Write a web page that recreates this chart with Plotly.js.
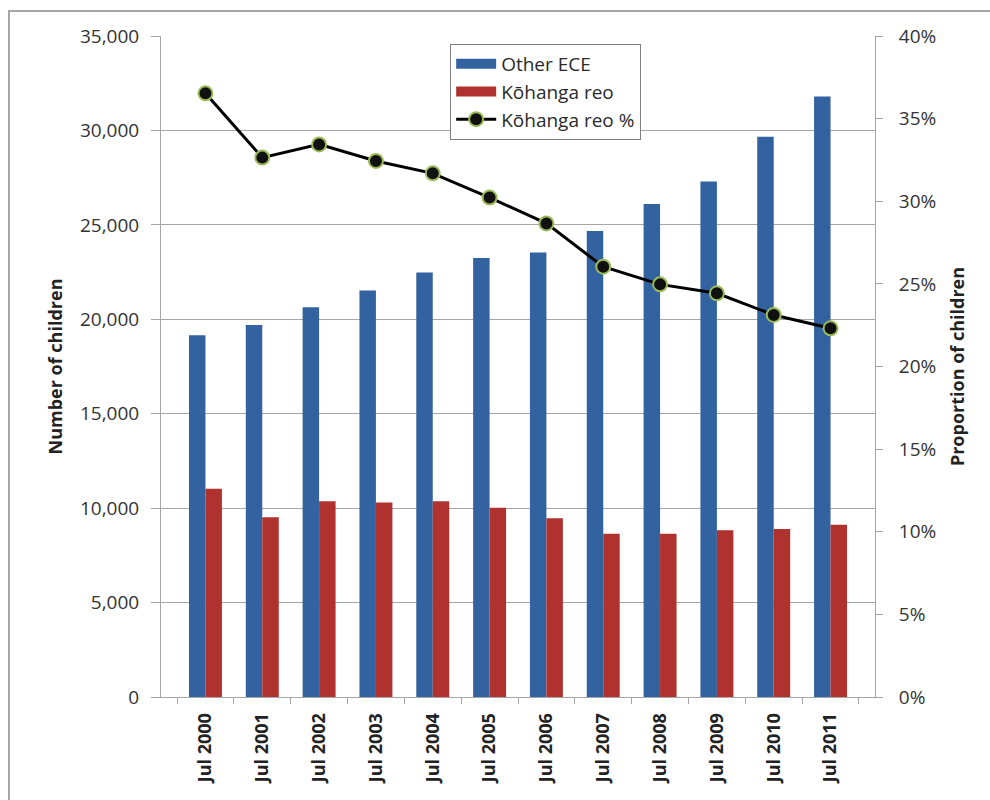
<!DOCTYPE html>
<html>
<head>
<meta charset="utf-8">
<script src="https://cdn.plot.ly/plotly-3.0.1.min.js"></script>
<style>
  html, body { margin: 0; padding: 0; background: #fff; }
  #chart { width: 990px; height: 800px; position: absolute; left: 0; top: 0; }
  #frame { position: absolute; left: 8px; top: 10px; width: 990px; height: 800px; border: 2px solid #a6a6a6; pointer-events: none; box-sizing: border-box; }
</style>
</head>
<body>
<div id="chart"></div>
<div id="frame"></div>
<script>
const categories = ["Jul 2000","Jul 2001","Jul 2002","Jul 2003","Jul 2004","Jul 2005","Jul 2006","Jul 2007","Jul 2008","Jul 2009","Jul 2010","Jul 2011"];
const otherECE = [19150, 19700, 20640, 21530, 22480, 23240, 23540, 24670, 26100, 27290, 29660, 31800];
const kohangaReo = [11030, 9520, 10370, 10300, 10370, 10020, 9470, 8640, 8640, 8830, 8890, 9120];
const kohangaPct = [0.3653, 0.3264, 0.3344, 0.3244, 0.3169, 0.3022, 0.2866, 0.2604, 0.2497, 0.2443, 0.2312, 0.2231];
const leftTicks = [0, 5000, 10000, 15000, 20000, 25000, 30000, 35000];
const rightTicks = [0, 0.05, 0.10, 0.15, 0.20, 0.25, 0.30, 0.35, 0.40];
const seriesNames = ['Other ECE', 'Kōhanga reo', 'Kōhanga reo %'];

const FONT = '"Open Sans", "Liberation Sans", sans-serif';
const gridCol = '#a6a6a6';
const blue = '#3263a0';
const red = '#b0322f';

const data = [
  { type: 'bar', name: seriesNames[0], x: categories, y: otherECE,
    marker: { color: blue }, yaxis: 'y', showlegend: false },
  { type: 'bar', name: seriesNames[1], x: categories, y: kohangaReo,
    marker: { color: red }, yaxis: 'y', showlegend: false },
  // legend-only keys (wide rectangle swatches like the original)
  { type: 'scatter', mode: 'lines', name: seriesNames[0], x: [categories[0]], y: [null],
    line: { color: blue, width: 12 }, yaxis: 'y', hoverinfo: 'skip' },
  { type: 'scatter', mode: 'lines', name: seriesNames[1], x: [categories[0]], y: [null],
    line: { color: red, width: 12 }, yaxis: 'y', hoverinfo: 'skip' },
  { type: 'scatter', mode: 'lines+markers', name: seriesNames[2], x: categories, y: kohangaPct,
    yaxis: 'y2',
    line: { color: '#000', width: 3 },
    marker: { color: '#111', size: 14, line: { color: '#9bbb59', width: 2 } } }
];

const layout = {
  width: 990, height: 800,
  margin: { l: 161, r: 115, t: 36, b: 103 },
  paper_bgcolor: '#fff', plot_bgcolor: '#fff',
  font: { family: FONT, size: 18, color: '#333' },
  barmode: 'group', bargap: 0.42, bargroupgap: 0,
  showlegend: true,
  legend: {
    x: 0.405, y: 0.988, xanchor: 'left', yanchor: 'top',
    bgcolor: '#fff', bordercolor: '#808080', borderwidth: 1,
    font: { family: FONT, size: 19, color: '#2a2a2a' },
    tracegroupgap: 0, itemwidth: 40
  },
  xaxis: {
    type: 'category', tickangle: -90,
    showline: true, linecolor: gridCol, linewidth: 1,
    ticks: 'outside', tickson: 'boundaries', ticklen: 6, tickcolor: gridCol,
    showgrid: false,
    ticklabelstandoff: 8,
    tickfont: { family: FONT, size: 18, color: '#222', weight: 'bold' }
  },
  yaxis: {
    range: [0, 35000], tickvals: leftTicks, tickformat: ',d',
    showline: true, linecolor: gridCol, linewidth: 1,
    ticks: 'outside', ticklen: 9, tickcolor: gridCol,
    showgrid: true, gridcolor: gridCol, gridwidth: 1,
    zeroline: false,
    ticklabelstandoff: 8,
    tickfont: { family: FONT, size: 19, color: '#333' },
    title: { text: 'Number of children', font: { family: FONT, size: 18, color: '#222', weight: 'bold' }, standoff: 12 }
  },
  yaxis2: {
    overlaying: 'y', side: 'right',
    range: [0, 0.40], tickvals: rightTicks, tickformat: '.0%',
    showline: true, linecolor: gridCol, linewidth: 1,
    ticks: 'outside', ticklen: 7, tickcolor: gridCol,
    showgrid: false, zeroline: false,
    ticklabelstandoff: 12,
    tickfont: { family: FONT, size: 19, color: '#333' },
    title: { text: 'Proportion of children', font: { family: FONT, size: 18, color: '#222', weight: 'bold' }, standoff: 16 }
  }
};

Plotly.newPlot('chart', data, layout, { displayModeBar: false, staticPlot: true });
</script>
</body>
</html>
